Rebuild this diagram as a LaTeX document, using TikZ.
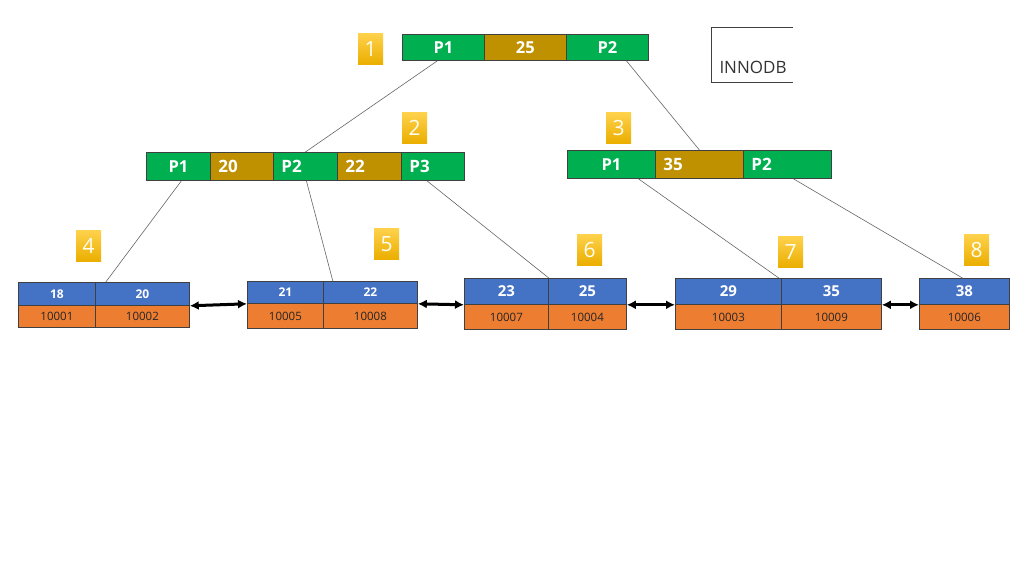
\documentclass[tikz,border=0pt]{standalone}
\usepackage{fontspec}
\setmainfont{Open Sans}
\usetikzlibrary{arrows.meta}
\definecolor{pgreen}{HTML}{00B050}
\definecolor{kgold}{HTML}{BF9000}
\definecolor{kblue}{HTML}{4472C4}
\definecolor{korange}{HTML}{ED7D31}
\definecolor{badgetop}{HTML}{FFD24D}
\definecolor{badgebot}{HTML}{EBAE00}
\tikzset{
  box/.style={draw=black!75,line width=0.8pt,anchor=north west,inner sep=0pt,text=white},
  pc/.style={box,fill=pgreen,font=\bfseries\fontsize{16.5}{16.5}\selectfont},
  lt/.style={box,inner xsep=8pt,align=left,font=\bfseries\fontsize{17}{17}\selectfont},
  kc/.style={lt,fill=kgold},
  kb/.style={box,fill=kblue,font=\bfseries\fontsize{#1}{#1}\selectfont},
  vo/.style={box,fill=korange,text=black!85,font=\fontsize{11.5}{12}\selectfont},
  badge/.style={anchor=north west,inner sep=0pt,minimum width=25pt,minimum height=31pt,
    top color=badgetop,bottom color=badgebot,text=white!95!yellow,font=\fontsize{21}{21}\selectfont},
  link/.style={draw=black!60,line width=0.6pt},
  nxt/.style={{Latex[length=9pt,width=9pt]}-{Latex[length=9pt,width=9pt]},line width=3pt}
}
\begin{document}
\begin{tikzpicture}[x=1pt,y=-1pt]
\useasboundingbox[fill=white] (0,0) rectangle (1024,576);
% root
\node[pc,minimum width=82pt,minimum height=26pt] (t1) at (402,34) {P1};
\node[pc,fill=kgold,minimum width=82pt,minimum height=26pt] (t2) at (484,34) {25};
\node[pc,minimum width=82pt,minimum height=26pt] (t3) at (566,34) {P2};
% second level
\node[pc,minimum width=64pt,minimum height=28pt] (a1) at (146,152) {P1};
\node[kc,text width=47pt,minimum height=28pt] (a2) at (210,152) {20};
\node[lt,fill=pgreen,text width=48pt,minimum height=28pt] (a3) at (273,152) {P2};
\node[kc,text width=48pt,minimum height=28pt] (a4) at (337,152) {22};
\node[lt,fill=pgreen,text width=47pt,minimum height=28pt] (a5) at (401,152) {P3};
\node[pc,minimum width=88pt,minimum height=28pt] (b1) at (567,150) {P1};
\node[kc,text width=72pt,minimum height=28pt] (b2) at (655,150) {35};
\node[lt,fill=pgreen,text width=72pt,minimum height=28pt] (b3) at (743,150) {P2};
% leaves
\node[kb=12,minimum width=77pt,minimum height=23pt] (l1a) at (18,282) {18};
\node[kb=12,minimum width=94pt,minimum height=23pt] (l1b) at (95,282) {20};
\node[vo,minimum width=77pt,minimum height=22pt] (v1a) at (18,305) {10001};
\node[vo,minimum width=94pt,minimum height=22pt] (v1b) at (95,305) {10002};
\node[kb=12,minimum width=76pt,minimum height=22pt] (l2a) at (247,281) {21};
\node[kb=12,minimum width=94pt,minimum height=22pt] (l2b) at (323,281) {22};
\node[vo,minimum width=76pt,minimum height=25pt] (v2a) at (247,303) {10005};
\node[vo,minimum width=94pt,minimum height=25pt] (v2b) at (323,303) {10008};
\node[kb=15,minimum width=84pt,minimum height=26pt] (l3a) at (464,278) {23};
\node[kb=15,minimum width=78pt,minimum height=26pt] (l3b) at (548,278) {25};
\node[vo,minimum width=84pt,minimum height=25pt] (v3a) at (464,304) {10007};
\node[vo,minimum width=78pt,minimum height=25pt] (v3b) at (548,304) {10004};
\node[kb=15,minimum width=106pt,minimum height=26pt] (l4a) at (675,278) {29};
\node[kb=15,minimum width=100pt,minimum height=26pt] (l4b) at (781,278) {35};
\node[vo,minimum width=106pt,minimum height=25pt] (v4a) at (675,304) {10003};
\node[vo,minimum width=100pt,minimum height=25pt] (v4b) at (781,304) {10009};
\node[kb=15,minimum width=90pt,minimum height=26pt] (l5a) at (919,278) {38};
\node[vo,minimum width=90pt,minimum height=25pt] (v5a) at (919,304) {10006};
% page numbers
\node[badge] (n1) at (358,33) {1};
\node[badge] (n2) at (402,112) {2};
\node[badge] (n3) at (606,112) {3};
\node[badge] (n4) at (76,230) {4};
\node[badge] (n5) at (374,228) {5};
\node[badge] (n6) at (577,234) {6};
\node[badge] (n7) at (778,236) {7};
\node[badge] (n8) at (964,234) {8};
% engine tag
\draw[black!75,line width=0.7pt] (793,27) -- (711,27) -- (711,82) -- (793,82);
\node[text=black!80,font=\fontsize{17}{17}\selectfont] (innodb) at (753,67) {INNODB};
% pointers
\draw[link] ([xshift=-6pt]t1.south) -- (a3.north);
\draw[link] ([xshift=19pt]t3.south) -- (b2.north);
\draw[link] ([xshift=3pt]a1.south) -- ([xshift=10pt]l1a.north east);
\draw[link] ([xshift=1pt]a3.south) -- ([xshift=9pt]l2a.north east);
\draw[link] ([xshift=-6pt]a5.south) -- (l3a.north east);
\draw[link] ([xshift=27pt]b1.south) -- ([xshift=-3pt]l4a.north east);
\draw[link] ([xshift=6pt]b3.south) -- ([xshift=-2pt]l5a.north);
% leaf chain
\draw[nxt] (l1b.south east) -- (l2a.south west);
\draw[nxt] (l2b.south east) -- (l3a.south west);
\draw[nxt] (l3b.south east) -- (l4a.south west);
\draw[nxt] (l4b.south east) -- (l5a.south west);
\end{tikzpicture}
\end{document}
